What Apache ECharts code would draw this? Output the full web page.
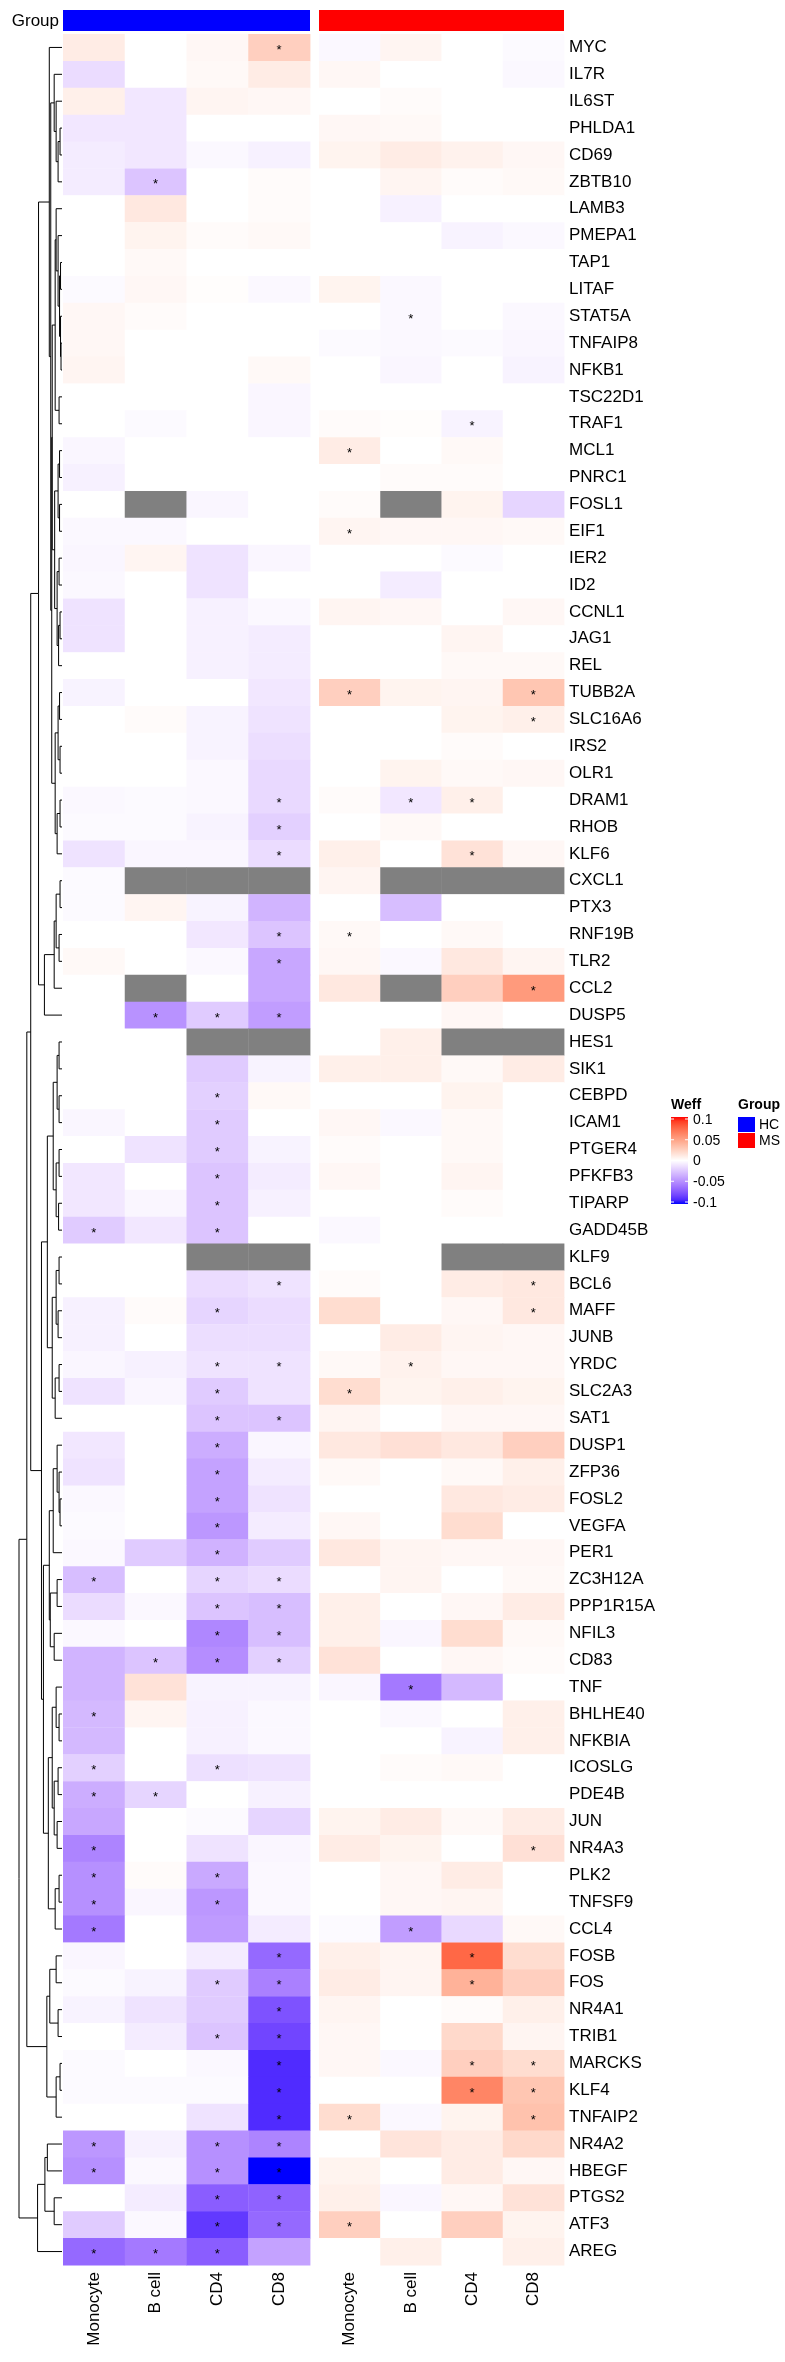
<!DOCTYPE html>
<html><head><meta charset="utf-8">
<script src="https://cdn.jsdelivr.net/npm/echarts@6/dist/echarts.min.js"></script>
<style>html,body{margin:0;padding:0;background:#fff}#c{width:785px;height:2362px}</style>
</head><body><div id="c"></div>
<script>
// ---------------- DATA ----------------
const genes = ['MYC','IL7R','IL6ST','PHLDA1','CD69','ZBTB10','LAMB3','PMEPA1','TAP1','LITAF','STAT5A','TNFAIP8','NFKB1','TSC22D1','TRAF1','MCL1','PNRC1','FOSL1','EIF1','IER2','ID2','CCNL1','JAG1','REL','TUBB2A','SLC16A6','IRS2','OLR1','DRAM1','RHOB','KLF6','CXCL1','PTX3','RNF19B','TLR2','CCL2','DUSP5','HES1','SIK1','CEBPD','ICAM1','PTGER4','PFKFB3','TIPARP','GADD45B','KLF9','BCL6','MAFF','JUNB','YRDC','SLC2A3','SAT1','DUSP1','ZFP36','FOSL2','VEGFA','PER1','ZC3H12A','PPP1R15A','NFIL3','CD83','TNF','BHLHE40','NFKBIA','ICOSLG','PDE4B','JUN','NR4A3','PLK2','TNFSF9','CCL4','FOSB','FOS','NR4A1','TRIB1','MARCKS','KLF4','TNFAIP2','NR4A2','HBEGF','PTGS2','ATF3','AREG'];
const cellTypes = ['Monocyte','B cell','CD4','CD8'];
const groupNames = ['HC','MS'];
const legendTicks = [0.1, 0.05, 0, -0.05, -0.1];

// Weff per gene: [Monocyte, B cell, CD4, CD8]; null = NA
const hcValues = [
[0.01,0,0.004,0.025],[-0.015,0,0.003,0.01],[0.008,-0.01,0.005,0.004],[-0.01,-0.01,0,0],[-0.008,-0.01,-0.003,-0.006],
[-0.008,-0.025,0,0.002],[0,0.012,0,0.002],[0,0.006,0.002,0.003],[0,0.003,0,0],[-0.002,0.004,0.001,-0.003],
[0.004,0.002,0,0],[0.004,0,0,0],[0.005,0,0,0.003],[0,0,0,-0.004],[0,-0.002,0,-0.004],
[-0.004,0,0,0],[-0.006,0,0,0],[0,null,-0.004,0],[-0.003,-0.003,0,0],[-0.004,0.005,-0.012,-0.004],
[-0.003,0,-0.012,0],[-0.012,0,-0.006,-0.003],[-0.012,0,-0.006,-0.008],[0,0,-0.006,-0.008],[-0.005,0,0,-0.01],
[0,0.002,-0.005,-0.012],[0,0,-0.005,-0.014],[0,0,-0.003,-0.016],[-0.003,-0.002,-0.003,-0.016],[-0.002,-0.002,-0.005,-0.02],
[-0.012,-0.004,-0.004,-0.015],[-0.002,null,null,null],[-0.002,0.005,-0.005,-0.032],[0,0,-0.01,-0.025],[0.003,0,-0.003,-0.038],
[0,null,0,-0.038],[0,-0.047,-0.022,-0.042],[0,0,null,null],[0,0,-0.022,-0.005],[0,0,-0.02,0.003],
[-0.004,0,-0.022,0],[0,-0.012,-0.022,-0.005],[-0.01,0,-0.025,-0.008],[-0.01,-0.004,-0.025,-0.006],[-0.022,-0.01,-0.025,0],
[0,0,null,null],[0,0,-0.015,-0.012],[-0.006,0.002,-0.018,-0.015],[-0.006,0,-0.014,-0.014],[-0.004,-0.006,-0.012,-0.012],
[-0.012,-0.004,-0.022,-0.012],[0,0,-0.025,-0.025],[-0.01,0,-0.035,-0.004],[-0.012,0,-0.04,-0.008],[-0.003,0,-0.04,-0.012],
[-0.002,0,-0.045,-0.008],[-0.003,-0.022,-0.033,-0.022],[-0.028,0,-0.018,-0.015],[-0.015,-0.003,-0.025,-0.028],[-0.003,0,-0.052,-0.028],
[-0.032,-0.025,-0.049,-0.02],[-0.032,0.015,-0.005,-0.005],[-0.03,0.005,-0.006,-0.003],[-0.03,0,-0.006,-0.003],[-0.02,0,-0.013,-0.012],
[-0.035,-0.018,0,-0.006],[-0.038,0,-0.002,-0.018],[-0.053,0,-0.012,-0.004],[-0.048,0.002,-0.037,-0.003],[-0.048,-0.004,-0.045,-0.003],
[-0.058,0,-0.043,-0.008],[-0.004,0,-0.008,-0.065],[-0.002,-0.005,-0.022,-0.055],[-0.005,-0.012,-0.022,-0.075],[0,-0.008,-0.025,-0.08],
[-0.002,0,-0.003,-0.09],[-0.002,-0.002,-0.002,-0.09],[0,0,-0.012,-0.09],[-0.045,-0.006,-0.048,-0.053],[-0.048,-0.003,-0.048,-0.1],
[0,-0.008,-0.07,-0.068],[-0.022,-0.003,-0.085,-0.065],[-0.065,-0.058,-0.07,-0.04]
];
const msValues = [
[-0.003,0.005,0,-0.002],[0.004,0,0,-0.003],[0,0.002,0,0],[0.004,0.003,0,0],[0.006,0.01,0.007,0.004],
[0,0.005,0.002,0.003],[0,-0.006,0,0],[0,0,-0.005,-0.003],[0,0,0,0],[0.006,-0.003,0,0],
[0,-0.003,0,-0.003],[-0.002,-0.003,-0.002,-0.004],[0,-0.004,0,-0.005],[0,0,0,0],[0.002,0.001,-0.005,0],
[0.01,0,0.003,0],[0,0.002,0.002,0],[0.002,null,0.006,-0.018],[0.005,0.004,0.004,0.003],[0,0,-0.002,0],
[0,-0.008,0,0],[0.005,0.004,0,0.004],[0,0,0.005,0],[0,0,0.003,0.003],[0.025,0.006,0.005,0.03],
[0,0,0.006,0.008],[0,0,0.002,0],[0,0.006,0.003,0.004],[0.002,-0.01,0.008,0],[0,0.003,0,0],
[0.008,0,0.015,0.004],[0.005,null,null,null],[0,-0.028,0,0],[0.003,0,0.003,0],[0.004,-0.003,0.012,0.005],
[0.012,null,0.025,0.052],[0,0,0.004,0],[0,0.008,null,null],[0.008,0.008,0.003,0.01],[0,0,0.006,0],
[0.004,-0.003,0.003,0],[0.002,0,0.003,0],[0.004,0,0.005,0],[0,0,0.002,0],[-0.003,0,0,0],
[0,0,null,null],[0.002,0,0.01,0.012],[0.018,0,0.004,0.012],[0,0.01,0.005,0.004],[0.003,0.007,0.004,0.004],
[0.018,0.006,0.008,0.006],[0.005,0,0.004,0.004],[0.012,0.016,0.012,0.025],[0.003,0,0.003,0.008],[0,0,0.012,0.01],
[0.004,0,0.018,0],[0.012,0.005,0.004,0.004],[0,0.005,0,0.003],[0.008,0,0.004,0.01],[0.008,-0.004,0.018,0.003],
[0.015,0,0.004,0.002],[-0.004,-0.058,-0.03,0],[0,-0.003,0,0.008],[0,0,-0.005,0.008],[0,0.002,0.003,0],
[0,0,0,0],[0.006,0.01,0.003,0.01],[0.01,0.006,0,0.016],[0,0.004,0.01,0],[0,0.004,0.005,0],
[-0.002,-0.042,-0.016,0.003],[0.008,0.005,0.075,0.018],[0.01,0.005,0.04,0.025],[0.005,0,0.002,0.008],[0.004,0,0.02,0.005],
[0.004,-0.003,0.025,0.018],[0,0,0.062,0.03],[0.018,-0.003,0.006,0.032],[0,0.014,0.01,0.02],[0.006,0,0.01,0.004],
[0.008,-0.004,0.004,0.015],[0.025,0,0.025,0.006],[0,0.008,0,0.008]
];
// significant cells [gene, cell type]
const hcSig = [['MYC','CD8'],['ZBTB10','B cell'],['DRAM1','CD8'],['RHOB','CD8'],['KLF6','CD8'],['RNF19B','CD8'],['TLR2','CD8'],
['DUSP5','B cell'],['DUSP5','CD4'],['DUSP5','CD8'],['CEBPD','CD4'],['ICAM1','CD4'],['PTGER4','CD4'],['PFKFB3','CD4'],['TIPARP','CD4'],
['GADD45B','Monocyte'],['GADD45B','CD4'],['BCL6','CD8'],['MAFF','CD4'],['YRDC','CD4'],['YRDC','CD8'],['SLC2A3','CD4'],['SAT1','CD4'],['SAT1','CD8'],
['DUSP1','CD4'],['ZFP36','CD4'],['FOSL2','CD4'],['VEGFA','CD4'],['PER1','CD4'],['ZC3H12A','Monocyte'],['ZC3H12A','CD4'],['ZC3H12A','CD8'],
['PPP1R15A','CD4'],['PPP1R15A','CD8'],['NFIL3','CD4'],['NFIL3','CD8'],['CD83','B cell'],['CD83','CD4'],['CD83','CD8'],['BHLHE40','Monocyte'],
['ICOSLG','Monocyte'],['ICOSLG','CD4'],['PDE4B','Monocyte'],['PDE4B','B cell'],['NR4A3','Monocyte'],['PLK2','Monocyte'],['PLK2','CD4'],
['TNFSF9','Monocyte'],['TNFSF9','CD4'],['CCL4','Monocyte'],['FOSB','CD8'],['FOS','CD4'],['FOS','CD8'],['NR4A1','CD8'],['TRIB1','CD4'],['TRIB1','CD8'],
['MARCKS','CD8'],['KLF4','CD8'],['TNFAIP2','CD8'],['NR4A2','Monocyte'],['NR4A2','CD4'],['NR4A2','CD8'],['HBEGF','Monocyte'],['HBEGF','CD4'],['HBEGF','CD8'],
['PTGS2','CD4'],['PTGS2','CD8'],['ATF3','CD4'],['ATF3','CD8'],['AREG','Monocyte'],['AREG','B cell'],['AREG','CD4']];
const msSig = [['STAT5A','B cell'],['TRAF1','CD4'],['MCL1','Monocyte'],['EIF1','Monocyte'],['TUBB2A','Monocyte'],['TUBB2A','CD8'],['SLC16A6','CD8'],
['DRAM1','B cell'],['DRAM1','CD4'],['KLF6','CD4'],['RNF19B','Monocyte'],['CCL2','CD8'],['BCL6','CD8'],['MAFF','CD8'],['YRDC','B cell'],['SLC2A3','Monocyte'],
['TNF','B cell'],['NR4A3','CD8'],['CCL4','B cell'],['FOSB','CD4'],['FOS','CD4'],['MARCKS','CD4'],['MARCKS','CD8'],['KLF4','CD4'],['KLF4','CD8'],
['TNFAIP2','Monocyte'],['TNFAIP2','CD8'],['ATF3','Monocyte']];

// row clustering: [height, left, right]
const C1 = [8,'IL7R',[6,'IL6ST',[4,[2,'PHLDA1','CD69'],'ZBTB10']]];
const C2a = [6,'LAMB3',[4,'PMEPA1',[2.5,[1.5,'TAP1','LITAF'],[1.5,'STAT5A',[1,'TNFAIP8','NFKB1']]]]];
const C2b = [3,'TSC22D1','TRAF1'];
const C2c = [4,[2.5,'MCL1','PNRC1'],[2.5,'FOSL1','EIF1']];
const C2d = [5,[3,'IER2','ID2'],[3.5,[2,'CCNL1','JAG1'],'REL']];
const C2 = [10,[7,C2a,C2b],[7.5,C2c,C2d]];
const C3 = [7,[4,[2.5,'TUBB2A','SLC16A6'],[2,'IRS2','OLR1']],[5,[2,'DRAM1','RHOB'],'KLF6']];
const C4 = [18,[8,[6,[2,'CXCL1','PTX3'],[3,'RNF19B','TLR2']],'CCL2'],'DUSP5'];
const C5 = [9,[5,[3,'HES1','SIK1'],[3,'CEBPD','ICAM1']],[6,[3,'PTGER4','PFKFB3'],[3.5,'TIPARP','GADD45B']]];
const C6 = [10,[6,[3,'KLF9','BCL6'],[4,'MAFF','JUNB']],[7,[3,'YRDC','SLC2A3'],'SAT1']];
const C7 = [9,[5,'DUSP1',[3,'ZFP36',[2,'FOSL2','VEGFA']]],'PER1'];
const C8 = [12,[5,'ZC3H12A','PPP1R15A'],[8,'NFIL3','CD83']];
const C9 = [14,[10,[6,'TNF',[3,'BHLHE40','NFKBIA']],[8,[4,'ICOSLG','PDE4B'],[5,'JUN','NR4A3']]],[7,[3,'PLK2','TNFSF9'],'CCL4']];
const C10 = [15.5,[12.5,[6,'FOSB','FOS'],[4,'NR4A1','TRIB1']],[6,[2,'MARCKS','KLF4'],'TNFAIP2']];
const C11 = [25,[17.5,[15,'NR4A2','HBEGF'],[8,'PTGS2','ATF3']],'AREG'];
const TOP = [24,[13,'MYC',[11.5,C1,[10.5,C2,C3]]],C4];
const MID = [21,[15,C5,C6],[19,[13,C7,C8],C9]];
const ROOT = [44,[36,[32,TOP,MID],C10],C11];
// ---------------- END DATA ----------------

const FONT = "'Liberation Sans', Arial, sans-serif";
function s2l(c){c/=255;return c<=0.04045?c/12.92:Math.pow((c+0.055)/1.055,2.4);}
function l2s(c){c=Math.max(0,Math.min(1,c));return 255*(c<=0.0031308?12.92*c:1.055*Math.pow(c,1/2.4)-0.055);}
function rgb2lab(r,g,b){const R=s2l(r),G=s2l(g),B=s2l(b);
 const X=(0.4124*R+0.3576*G+0.1805*B)/0.95047,Y=0.2126*R+0.7152*G+0.0722*B,Z=(0.0193*R+0.1192*G+0.9505*B)/1.08883;
 const f=t=>t>0.008856?Math.cbrt(t):7.787*t+16/116;const fx=f(X),fy=f(Y),fz=f(Z);
 return [116*fy-16,500*(fx-fy),200*(fy-fz)];}
function lab2rgb(L,a,b){const fy=(L+16)/116,fx=fy+a/500,fz=fy-b/200;
 const fi=t=>t*t*t>0.008856?t*t*t:(t-16/116)/7.787;
 const X=fi(fx)*0.95047,Y=fi(fy),Z=fi(fz)*1.08883;
 const R=3.2406*X-1.5372*Y-0.4986*Z,G=-0.9689*X+1.8758*Y+0.0415*Z,B=0.0557*X-0.2040*Y+1.0570*Z;
 return [l2s(R),l2s(G),l2s(B)].map(Math.round);}
const LW=rgb2lab(255,255,255),LB=rgb2lab(0,0,255),LR=rgb2lab(255,0,0);
function colorFor(v){const t=Math.min(1,Math.abs(v)/0.1);const e=v<0?LB:LR;
 const c=lab2rgb(LW[0]+t*(e[0]-LW[0]),LW[1]+t*(e[1]-LW[1]),LW[2]+t*(e[2]-LW[2]));
 return 'rgb('+c.join(',')+')';}

function cellData(vals){const d=[];vals.forEach((row,gi)=>row.forEach((v,ci)=>{d.push(v===null?[ci,gi,0,1]:[ci,gi,v,0]);}));return d;}
function sigData(list){return list.map(s=>[cellTypes.indexOf(s[1]),genes.indexOf(s[0])]);}

const segs=[];
function walk(n){if(typeof n==='string'){return {y:genes.indexOf(n)+0.5,h:0};}
 const a=walk(n[1]),b=walk(n[2]);segs.push([n[0],a.y,b.y,a.h,b.h]);return {y:(a.y+b.y)/2,h:n[0]};}
walk(ROOT);

const GT=34,GH=2231;
const grids=[
 {left:63,top:GT,width:247,height:GH,outerBoundsMode:'none'},
 {left:319,top:GT,width:245,height:GH,outerBoundsMode:'none'},
 {left:19,top:GT,width:43,height:GH,outerBoundsMode:'none'}
];
function catX(i){return {type:'category',gridIndex:i,data:cellTypes,axisLine:{show:false},axisTick:{show:false},splitLine:{show:false},
 axisLabel:{rotate:90,fontSize:17,color:'#000',margin:7,fontFamily:FONT,interval:0}};}
function catY(i,show){return {type:'category',gridIndex:i,data:genes,inverse:true,position:'right',axisLine:{show:false},axisTick:{show:false},splitLine:{show:false},
 axisLabel:{show:show,fontSize:17,color:'#000',margin:5,fontFamily:FONT,interval:0}};}

function cellRender(params,api){const c=api.coord([api.value(0),api.value(1)]);const s=api.size([1,1]);
 const na=api.value(3)===1;
 return {type:'rect',shape:{x:c[0]-s[0]/2,y:c[1]-s[1]/2,width:s[0]+0.4,height:s[1]+0.4},style:{fill:na?'#808080':colorFor(api.value(2))}};}
function starRender(params,api){const c=api.coord([api.value(0),api.value(1)]);
 return {type:'text',x:c[0],y:c[1]+3,style:{text:'*',fill:'#000',font:'13px '+FONT,textAlign:'center',textVerticalAlign:'middle'}};}
function barRender(color){return function(params,api){const a=api.coord([0,0]),b=api.coord([3,0]);const s=api.size([1,1]);
 return {type:'rect',shape:{x:a[0]-s[0]/2,y:a[1]-s[1]/2-24,width:b[0]-a[0]+s[0],height:21},style:{fill:color}};};}
function dendroRender(params,api){
 const h=api.value(0),y1=api.value(1),y2=api.value(2),h1=api.value(3),h2=api.value(4);
 const p=[api.coord([h1,y1]),api.coord([h,y1]),api.coord([h,y2]),api.coord([h2,y2])];
 return {type:'polyline',shape:{points:p},style:{stroke:'#000',lineWidth:1,fill:null}};}

const series=[
 {type:'custom',xAxisIndex:0,yAxisIndex:0,renderItem:cellRender,data:cellData(hcValues),silent:true},
 {type:'custom',xAxisIndex:1,yAxisIndex:1,renderItem:cellRender,data:cellData(msValues),silent:true},
 {type:'custom',xAxisIndex:0,yAxisIndex:0,renderItem:starRender,data:sigData(hcSig),silent:true,z:5},
 {type:'custom',xAxisIndex:1,yAxisIndex:1,renderItem:starRender,data:sigData(msSig),silent:true,z:5},
 {type:'custom',xAxisIndex:0,yAxisIndex:0,renderItem:barRender('#0000FF'),data:[[0]],silent:true,clip:false},
 {type:'custom',xAxisIndex:1,yAxisIndex:1,renderItem:barRender('#FF0000'),data:[[1]],silent:true,clip:false},
 {type:'custom',xAxisIndex:2,yAxisIndex:2,renderItem:dendroRender,data:segs,silent:true,clip:false}
];

// legend graphics
const LX=671,LY=1117,LH=87,LWID=17;
const stops=[];for(let i=0;i<=20;i++){const v=0.1-i*0.01;stops.push({offset:i/20,color:colorFor(v)});}
const graphic=[
 {type:'text',left:null,x:59,y:21,style:{text:'Group',font:'17px '+FONT,fill:'#000',textAlign:'right',textVerticalAlign:'middle'}},
 {type:'text',x:LX,y:1105,style:{text:'Weff',font:'bold 14px '+FONT,fill:'#000',textAlign:'left',textVerticalAlign:'middle'}},
 {type:'rect',shape:{x:LX,y:LY,width:LWID,height:LH},style:{fill:{type:'linear',x:0,y:0,x2:0,y2:1,colorStops:stops}}},
 {type:'text',x:738,y:1105,style:{text:'Group',font:'bold 14px '+FONT,fill:'#000',textAlign:'left',textVerticalAlign:'middle'}},
 {type:'rect',shape:{x:738,y:1117,width:17,height:15},style:{fill:'#0000FF'}},
 {type:'rect',shape:{x:738,y:1133,width:17,height:15},style:{fill:'#FF0000'}},
 {type:'text',x:759,y:1125,style:{text:groupNames[0],font:'14px '+FONT,fill:'#000',textVerticalAlign:'middle'}},
 {type:'text',x:759,y:1141,style:{text:groupNames[1],font:'14px '+FONT,fill:'#000',textVerticalAlign:'middle'}}
];
legendTicks.forEach((t,i)=>{const y=LY+2+i*(LH-4)/(legendTicks.length-1);
 graphic.push({type:'line',shape:{x1:LX,y1:y,x2:LX+3,y2:y},style:{stroke:'#fff',lineWidth:1}});
 graphic.push({type:'line',shape:{x1:LX+LWID-3,y1:y,x2:LX+LWID,y2:y},style:{stroke:'#fff',lineWidth:1}});
 graphic.push({type:'text',x:LX+LWID+5,y:y+1,style:{text:String(t),font:'14px '+FONT,fill:'#000',textVerticalAlign:'middle'}});
});

const chart=echarts.init(document.getElementById('c'),null,{renderer:'canvas'});
chart.setOption({
 animation:false,backgroundColor:'#fff',
 grid:grids,
 xAxis:[catX(0),catX(1),{type:'value',gridIndex:2,min:0,max:44,inverse:true,show:false}],
 yAxis:[catY(0,false),catY(1,true),{type:'value',gridIndex:2,min:0,max:genes.length,inverse:true,show:false}],
 series:series,
 graphic:graphic
});
</script></body></html>
